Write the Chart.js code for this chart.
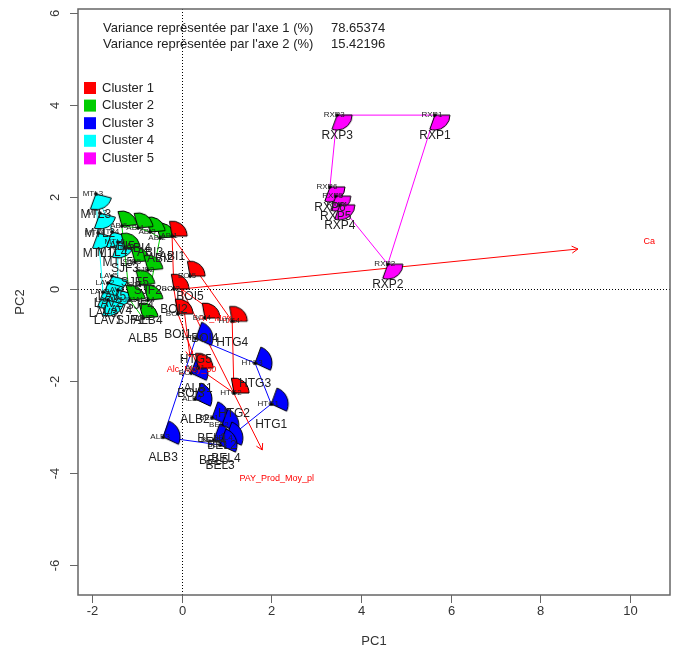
<!DOCTYPE html>
<html><head><meta charset="utf-8">
<script src="https://cdn.jsdelivr.net/npm/chart.js@4/dist/chart.umd.min.js"></script>
<style>html,body{margin:0;padding:0;background:#fff}#wrap{width:673px;height:657px}</style>
</head><body><div id="wrap"><canvas id="c" width="673" height="657"></canvas></div>
<script>
// ---------------- DATA ----------------
const clusterNames = ['Cluster 1','Cluster 2','Cluster 3','Cluster 4','Cluster 5'];

const c1Names = ['ABI1','BOI5','BOI2','BOI1','BOI4','HTG4','ALB1','HTG2'];
const c1X = [-0.21, 0.19, -0.17, -0.08, 0.52, 1.13, 0.37, 1.17];
const c1Y = [1.15, 0.28, 0.00, -0.54, -0.63, -0.70, -1.72, -2.26];

const c2Names = ['ABI2','ABI3','ABI4','ABI5','SJF3','SJF5','SJF2','SJF4','SJF1','ALB4','ALB5'];
const c2X = [-0.48, -0.70, -0.97, -1.33, -1.26, -1.04, -0.75, -0.93, -1.15, -0.75, -0.86];
const c2Y = [1.11, 1.24, 1.33, 1.37, 0.89, 0.59, 0.41, 0.09, -0.24, -0.24, -0.63];

const c3Names = ['HTG5','HTG3','HTG1','BOI3','ALB2','BEL1','BEL2','BEL4','BEL5','BEL3','ALB3'];
const c3X = [0.32, 1.64, 2.00, 0.21, 0.30, 0.68, 0.90, 0.99, 0.72, 0.86, -0.41];
const c3Y = [-1.07, -1.61, -2.50, -1.83, -2.39, -2.80, -2.96, -3.24, -3.28, -3.39, -3.22];

const c4Names = ['MTL3','MTL2','MTL1','MTL4','MTL5','LAV5','LAV2','LAV4','LAV3','LAV1'];
const c4X = [-1.91, -1.82, -1.86, -1.55, -1.42, -1.55, -1.64, -1.42, -1.75, -1.64];
const c4Y = [2.07, 1.65, 1.22, 1.24, 1.02, 0.28, 0.13, -0.02, -0.07, -0.24];

const c5Names = ['RXP1','RXP3','RXP6','RXP5','RXP4','RXP2'];
const c5X = [5.65, 3.47, 3.31, 3.44, 3.53, 4.60];
const c5Y = [3.78, 3.78, 2.22, 2.02, 1.83, 0.54];

const varNames = ['Ca','PAY_Prod_Moy_pl','Alc_Moy_50','AT_Moy_50'];
const varX = [8.84, 1.80, 0.19, 0.77];
const varY = [0.87, -3.50, -1.48, -0.54];

const xTicks = [-2, 0, 2, 4, 6, 8, 10];
const yTicks = [-6, -4, -2, 0, 2, 4, 6];
const varianceLabels = ["Variance représentée par l'axe 1 (%)", "Variance représentée par l'axe 2 (%)"];
const varianceValues = ['78.65374', '15.42196'];
const xTitle = 'PC1';
const yTitle = 'PC2';

// ---------------- STYLE ----------------
const clusterColors = ['#FF0000', '#00CD00', '#0000FF', '#00FFFF', '#FF00FF'];
const glyphAngles = [[-100, 0], [-105, -5], [-70, 25], [15, 110], [0, 110]];
const glyphRadius = [15, 15, 17, 16, 15];
const FONT = '"Liberation Sans", Arial, sans-serif';

function makeGlyph(color, a0, a1, r) {
  const s = 2 * r + 4;
  const cv = document.createElement('canvas');
  cv.width = s; cv.height = s;
  const g = cv.getContext('2d');
  const c = s / 2;
  g.beginPath();
  g.moveTo(c, c);
  g.arc(c, c, r, a0 * Math.PI / 180, a1 * Math.PI / 180);
  g.closePath();
  g.fillStyle = color; g.fill();
  g.lineWidth = 1; g.strokeStyle = '#000'; g.stroke();
  g.beginPath(); g.arc(c, c, 1.8, 0, Math.PI * 2); g.fillStyle = '#000'; g.fill();
  return cv;
}

const clusters = [
  [c1Names, c1X, c1Y], [c2Names, c2X, c2Y], [c3Names, c3X, c3Y], [c4Names, c4X, c4Y], [c5Names, c5X, c5Y]
];

function hull(pts) {
  const p = pts.slice().sort((a, b) => a.x - b.x || a.y - b.y);
  const cross = (o, a, b) => (a.x - o.x) * (b.y - o.y) - (a.y - o.y) * (b.x - o.x);
  const lower = [], upper = [];
  for (const q of p) { while (lower.length >= 2 && cross(lower[lower.length - 2], lower[lower.length - 1], q) <= 0) lower.pop(); lower.push(q); }
  for (let i = p.length - 1; i >= 0; i--) { const q = p[i]; while (upper.length >= 2 && cross(upper[upper.length - 2], upper[upper.length - 1], q) <= 0) upper.pop(); upper.push(q); }
  upper.pop(); lower.pop();
  const h = lower.concat(upper);
  h.push(h[0]);
  return h.map(q => ({ x: q.x, y: q.y }));
}

const datasets = [];
clusters.forEach(([names, xs, ys], k) => {
  const pts = xs.map((x, i) => ({ x, y: ys[i], name: names[i] }));
  datasets.push({
    label: clusterNames[k], data: pts, order: 1,
    pointStyle: makeGlyph(clusterColors[k], glyphAngles[k][0], glyphAngles[k][1], glyphRadius[k]),
    pointRadius: glyphRadius[k], showLine: false, isPoints: true
  });
  datasets.push({
    label: clusterNames[k] + ' hull', data: hull(pts), order: 3, showLine: true,
    borderColor: clusterColors[k], borderWidth: 1, pointRadius: 0, fill: false, tension: 0
  });
});
varNames.forEach((n, i) => {
  datasets.push({
    label: n, data: [{ x: 0, y: 0 }, { x: varX[i], y: varY[i] }], order: 2, showLine: true,
    borderColor: '#FF0000', borderWidth: 1, pointRadius: 0, isArrow: true, varIndex: i
  });
});

const decor = {
  id: 'decor',
  beforeDatasetsDraw(chart) {
    const { ctx, chartArea: a, scales: { x, y } } = chart;
    ctx.save();
    ctx.strokeStyle = '#000'; ctx.lineWidth = 1; ctx.setLineDash([1, 2]);
    const x0 = Math.round(x.getPixelForValue(0)) + 0.5, y0 = Math.round(y.getPixelForValue(0)) + 0.5;
    ctx.beginPath(); ctx.moveTo(x0, a.top); ctx.lineTo(x0, a.bottom); ctx.stroke();
    ctx.beginPath(); ctx.moveTo(a.left, y0); ctx.lineTo(a.right, y0); ctx.stroke();
    ctx.restore();
  },
  afterDatasetsDraw(chart) {
    const { ctx, chartArea: a, scales: { x, y } } = chart;
    ctx.save();
    chart.data.datasets.forEach(ds => {
      if (!ds.isArrow) return;
      const p0 = ds.data[0], p1 = ds.data[1];
      const X0 = x.getPixelForValue(p0.x), Y0 = y.getPixelForValue(p0.y);
      const X1 = x.getPixelForValue(p1.x), Y1 = y.getPixelForValue(p1.y);
      const ang = Math.atan2(Y1 - Y0, X1 - X0), L = 7, h = Math.PI / 6;
      ctx.strokeStyle = '#FF0000'; ctx.lineWidth = 1; ctx.setLineDash([]);
      ctx.beginPath();
      ctx.moveTo(X1 - L * Math.cos(ang - h), Y1 - L * Math.sin(ang - h));
      ctx.lineTo(X1, Y1);
      ctx.lineTo(X1 - L * Math.cos(ang + h), Y1 - L * Math.sin(ang + h));
      ctx.stroke();
      ctx.fillStyle = '#FF0000'; ctx.font = '9px ' + FONT;
      ctx.textAlign = 'center'; ctx.textBaseline = 'middle';
      ctx.fillText(ds.label, x.getPixelForValue(p1.x * 1.18), y.getPixelForValue(p1.y * 1.18));
    });
    chart.data.datasets.forEach((ds, di) => {
      if (!ds.isPoints) return;
      const meta = chart.getDatasetMeta(di);
      meta.data.forEach((el, i) => {
        const n = ds.data[i].name;
        ctx.fillStyle = '#222'; ctx.textAlign = 'center'; ctx.textBaseline = 'middle';
        ctx.font = '8px ' + FONT; ctx.fillText(n, el.x - 3, el.y);
        ctx.font = '12px ' + FONT; ctx.fillText(n, el.x, el.y + 21);
      });
    });
    ctx.restore();
  },
  afterDraw(chart) {
    const { ctx, chartArea: a, scales: { x, y } } = chart;
    ctx.save();
    ctx.setLineDash([]);
    ctx.strokeStyle = '#666'; ctx.lineWidth = 1.5;
    ctx.strokeRect(a.left, a.top, a.right - a.left, a.bottom - a.top);
    ctx.fillStyle = '#333'; ctx.font = '13px ' + FONT;
    ctx.lineWidth = 1;
    xTicks.forEach(v => {
      const px = Math.round(x.getPixelForValue(v)) + 0.5;
      ctx.beginPath(); ctx.moveTo(px, a.bottom); ctx.lineTo(px, a.bottom + 8); ctx.stroke();
      ctx.textAlign = 'center'; ctx.textBaseline = 'middle';
      ctx.fillText(String(v), px, a.bottom + 16);
    });
    yTicks.forEach(v => {
      const py = Math.round(y.getPixelForValue(v)) + 0.5;
      ctx.beginPath(); ctx.moveTo(a.left, py); ctx.lineTo(a.left - 8, py); ctx.stroke();
      ctx.save(); ctx.translate(a.left - 23, py); ctx.rotate(-Math.PI / 2);
      ctx.textAlign = 'center'; ctx.textBaseline = 'middle';
      ctx.fillText(String(v), 0, 0); ctx.restore();
    });
    ctx.textAlign = 'center'; ctx.textBaseline = 'middle';
    ctx.fillText(xTitle, (a.left + a.right) / 2, a.bottom + 46);
    ctx.save(); ctx.translate(20, (a.top + a.bottom) / 2); ctx.rotate(-Math.PI / 2);
    ctx.fillText(yTitle, 0, 0); ctx.restore();
    ctx.fillStyle = '#222'; ctx.textAlign = 'left'; ctx.font = '13px ' + FONT;
    varianceLabels.forEach((t, i) => {
      ctx.fillText(t, 103, 28 + i * 16);
      ctx.fillText(varianceValues[i], 331, 28 + i * 16);
    });
    clusterNames.forEach((t, i) => {
      const cy = 88 + i * 17.6;
      ctx.fillStyle = clusterColors[i];
      ctx.fillRect(84, cy - 6, 12, 12);
      ctx.fillStyle = '#222';
      ctx.fillText(t, 102, cy);
    });
    ctx.restore();
  }
};

new Chart(document.getElementById('c'), {
  type: 'scatter',
  data: { datasets },
  options: {
    responsive: false, animation: false, devicePixelRatio: 1,
    layout: { autoPadding: false, padding: { top: 9, right: 3, left: 0, bottom: 0 } },
    plugins: { legend: { display: false }, tooltip: { enabled: false } },
    scales: {
      x: { type: 'linear', min: -2.308, max: 10.892, grid: { display: false }, border: { display: false },
           ticks: { display: false }, afterFit(s) { s.height = 62; } },
      y: { type: 'linear', min: -6.652, max: 6.087, grid: { display: false }, border: { display: false },
           ticks: { display: false }, afterFit(s) { s.width = 78; } }
    }
  },
  plugins: [decor]
});
</script></body></html>
